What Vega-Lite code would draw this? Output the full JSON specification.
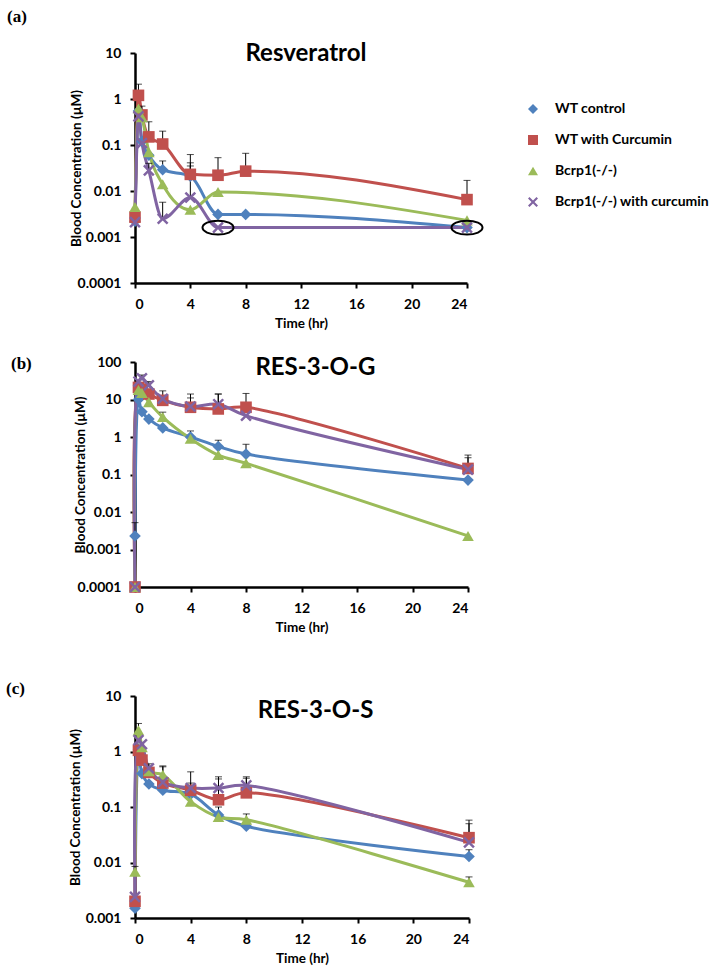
{
  "$schema": "https://vega.github.io/schema/vega-lite/v6.json",
  "background": "white",
  "padding": {"left": 6, "top": 8, "right": 5, "bottom": 5},
  "config": {
    "font": "Lato",
    "view": {"stroke": null},
    "axis": {"grid": false, "domainColor": "black", "domainWidth": 2.5, "tickColor": "black", "tickWidth": 2, "tickSize": 5, "labelFont": "Lato", "labelFontWeight": "bold", "labelFontSize": 14, "labelColor": "black", "labelPadding": 9, "titleFont": "Lato", "titleFontSize": 13.5, "titleFontWeight": "bold", "titleColor": "black"},
    "legend": {"labelFont": "Lato", "labelFontSize": 14, "labelFontWeight": "bold", "labelColor": "black"}
  },
  "datasets": {
    "resv": [
      {"s": "WT control", "t": 0, "v": 0.0022},
      {"s": "WT control", "t": 0.25, "v": 0.55},
      {"s": "WT control", "t": 0.5, "v": 0.12},
      {"s": "WT control", "t": 1, "v": 0.06},
      {"s": "WT control", "t": 2, "v": 0.029, "hi": 0.045},
      {"s": "WT control", "t": 4, "v": 0.021, "hi": 0.041},
      {"s": "WT control", "t": 6, "v": 0.0031},
      {"s": "WT control", "t": 8, "v": 0.0031},
      {"s": "WT control", "t": 24, "v": 0.0016},
      {"s": "WT with Curcumin", "t": 0, "v": 0.0027},
      {"s": "WT with Curcumin", "t": 0.25, "v": 1.2, "hi": 2.1},
      {"s": "WT with Curcumin", "t": 0.5, "v": 0.45, "hi": 0.7},
      {"s": "WT with Curcumin", "t": 1, "v": 0.15, "hi": 0.32},
      {"s": "WT with Curcumin", "t": 2, "v": 0.105, "hi": 0.2},
      {"s": "WT with Curcumin", "t": 4, "v": 0.023, "hi": 0.062},
      {"s": "WT with Curcumin", "t": 6, "v": 0.022, "hi": 0.053},
      {"s": "WT with Curcumin", "t": 8, "v": 0.027, "hi": 0.066},
      {"s": "WT with Curcumin", "t": 24, "v": 0.0065, "hi": 0.017},
      {"s": "Bcrp1(-/-)", "t": 0, "v": 0.0045},
      {"s": "Bcrp1(-/-)", "t": 0.25, "v": 0.62},
      {"s": "Bcrp1(-/-)", "t": 0.5, "v": 0.4},
      {"s": "Bcrp1(-/-)", "t": 1, "v": 0.07},
      {"s": "Bcrp1(-/-)", "t": 2, "v": 0.014},
      {"s": "Bcrp1(-/-)", "t": 4, "v": 0.0039},
      {"s": "Bcrp1(-/-)", "t": 6, "v": 0.0095},
      {"s": "Bcrp1(-/-)", "t": 24, "v": 0.0023},
      {"s": "Bcrp1(-/-) with curcumin", "t": 0, "v": 0.0021},
      {"s": "Bcrp1(-/-) with curcumin", "t": 0.25, "v": 0.42},
      {"s": "Bcrp1(-/-) with curcumin", "t": 0.5, "v": 0.11},
      {"s": "Bcrp1(-/-) with curcumin", "t": 1, "v": 0.028, "hi": 0.04},
      {"s": "Bcrp1(-/-) with curcumin", "t": 2, "v": 0.0025, "hi": 0.0057},
      {"s": "Bcrp1(-/-) with curcumin", "t": 4, "v": 0.0072, "hi": 0.035},
      {"s": "Bcrp1(-/-) with curcumin", "t": 6, "v": 0.0016},
      {"s": "Bcrp1(-/-) with curcumin", "t": 24, "v": 0.0016}
    ],
    "gluc": [
      {"s": "WT control", "t": 0, "v": 0.0023, "hi": 0.0052},
      {"s": "WT control", "t": 0.25, "v": 10},
      {"s": "WT control", "t": 0.5, "v": 4.7},
      {"s": "WT control", "t": 1, "v": 3.0},
      {"s": "WT control", "t": 2, "v": 1.75},
      {"s": "WT control", "t": 4, "v": 1.0, "hi": 1.45},
      {"s": "WT control", "t": 6, "v": 0.56, "hi": 0.82},
      {"s": "WT control", "t": 8, "v": 0.35, "hi": 0.64},
      {"s": "WT control", "t": 24, "v": 0.071},
      {"s": "WT with Curcumin", "t": 0, "v": 0.0001},
      {"s": "WT with Curcumin", "t": 0.25, "v": 21},
      {"s": "WT with Curcumin", "t": 0.5, "v": 19},
      {"s": "WT with Curcumin", "t": 1, "v": 14},
      {"s": "WT with Curcumin", "t": 2, "v": 9.5, "hi": 17},
      {"s": "WT with Curcumin", "t": 4, "v": 6.2, "hi": 14},
      {"s": "WT with Curcumin", "t": 6, "v": 5.6, "hi": 14},
      {"s": "WT with Curcumin", "t": 8, "v": 6.2, "hi": 14.5},
      {"s": "WT with Curcumin", "t": 24, "v": 0.145, "hi": 0.33},
      {"s": "Bcrp1(-/-)", "t": 0, "v": 0.0001},
      {"s": "Bcrp1(-/-)", "t": 0.25, "v": 18},
      {"s": "Bcrp1(-/-)", "t": 0.5, "v": 15},
      {"s": "Bcrp1(-/-)", "t": 1, "v": 8.5},
      {"s": "Bcrp1(-/-)", "t": 2, "v": 3.4, "hi": 4.6},
      {"s": "Bcrp1(-/-)", "t": 4, "v": 0.9},
      {"s": "Bcrp1(-/-)", "t": 6, "v": 0.33},
      {"s": "Bcrp1(-/-)", "t": 8, "v": 0.2},
      {"s": "Bcrp1(-/-)", "t": 24, "v": 0.0023},
      {"s": "Bcrp1(-/-) with curcumin", "t": 0, "v": 0.0001},
      {"s": "Bcrp1(-/-) with curcumin", "t": 0.25, "v": 30},
      {"s": "Bcrp1(-/-) with curcumin", "t": 0.5, "v": 37, "hi": 45},
      {"s": "Bcrp1(-/-) with curcumin", "t": 1, "v": 24, "hi": 30},
      {"s": "Bcrp1(-/-) with curcumin", "t": 2, "v": 10.5},
      {"s": "Bcrp1(-/-) with curcumin", "t": 4, "v": 6.5, "hi": 11},
      {"s": "Bcrp1(-/-) with curcumin", "t": 6, "v": 7.5, "hi": 14},
      {"s": "Bcrp1(-/-) with curcumin", "t": 8, "v": 3.7},
      {"s": "Bcrp1(-/-) with curcumin", "t": 24, "v": 0.135, "hi": 0.28}
    ],
    "sulf": [
      {"s": "WT control", "t": 0, "v": 0.0015},
      {"s": "WT control", "t": 0.25, "v": 1.1},
      {"s": "WT control", "t": 0.5, "v": 0.4},
      {"s": "WT control", "t": 1, "v": 0.26},
      {"s": "WT control", "t": 2, "v": 0.2},
      {"s": "WT control", "t": 4, "v": 0.17},
      {"s": "WT control", "t": 6, "v": 0.072, "hi": 0.1},
      {"s": "WT control", "t": 8, "v": 0.045},
      {"s": "WT control", "t": 24, "v": 0.0128, "hi": 0.017},
      {"s": "WT with Curcumin", "t": 0, "v": 0.002},
      {"s": "WT with Curcumin", "t": 0.25, "v": 1.05},
      {"s": "WT with Curcumin", "t": 0.5, "v": 0.7},
      {"s": "WT with Curcumin", "t": 1, "v": 0.42, "hi": 0.6},
      {"s": "WT with Curcumin", "t": 2, "v": 0.27, "hi": 0.53},
      {"s": "WT with Curcumin", "t": 4, "v": 0.2, "hi": 0.43},
      {"s": "WT with Curcumin", "t": 6, "v": 0.135, "hi": 0.35},
      {"s": "WT with Curcumin", "t": 8, "v": 0.18, "hi": 0.35},
      {"s": "WT with Curcumin", "t": 24, "v": 0.028, "hi": 0.058},
      {"s": "Bcrp1(-/-)", "t": 0, "v": 0.0068, "hi": 0.0085},
      {"s": "Bcrp1(-/-)", "t": 0.25, "v": 2.4, "hi": 3.2},
      {"s": "Bcrp1(-/-)", "t": 0.5, "v": 1.2},
      {"s": "Bcrp1(-/-)", "t": 1, "v": 0.44},
      {"s": "Bcrp1(-/-)", "t": 2, "v": 0.38, "hi": 0.55},
      {"s": "Bcrp1(-/-)", "t": 4, "v": 0.125},
      {"s": "Bcrp1(-/-)", "t": 6, "v": 0.066},
      {"s": "Bcrp1(-/-)", "t": 8, "v": 0.059, "hi": 0.075},
      {"s": "Bcrp1(-/-)", "t": 24, "v": 0.0044, "hi": 0.0055},
      {"s": "Bcrp1(-/-) with curcumin", "t": 0, "v": 0.0024},
      {"s": "Bcrp1(-/-) with curcumin", "t": 0.25, "v": 1.6},
      {"s": "Bcrp1(-/-) with curcumin", "t": 0.5, "v": 1.35},
      {"s": "Bcrp1(-/-) with curcumin", "t": 1, "v": 0.5},
      {"s": "Bcrp1(-/-) with curcumin", "t": 2, "v": 0.28},
      {"s": "Bcrp1(-/-) with curcumin", "t": 4, "v": 0.22, "hi": 0.27},
      {"s": "Bcrp1(-/-) with curcumin", "t": 6, "v": 0.22, "hi": 0.32},
      {"s": "Bcrp1(-/-) with curcumin", "t": 8, "v": 0.245, "hi": 0.33},
      {"s": "Bcrp1(-/-) with curcumin", "t": 24, "v": 0.023, "hi": 0.05}
    ]
  },
  "vconcat": [
    {
      "spacing": 25,
      "vconcat": [
        {
          "width": 332, "height": 230,
          "title": {"text": "(a)", "anchor": "start", "frame": "bounds", "dx": -62, "offset": 16, "font": "Liberation Serif", "fontSize": 17, "fontWeight": "bold", "color": "black"},
          "data": {"name": "resv"},
          "layer": [
            {"mark": {"type": "line", "interpolate": "monotone", "strokeWidth": 3},
             "encoding": {
               "x": {"field": "t", "type": "quantitative", "scale": {"domain": [0, 24], "nice": false}, "axis": {"values": [0, 4, 8, 12, 16, 20, 24], "title": "Time (hr)", "titlePadding": 5}},
               "y": {"field": "v", "type": "quantitative", "scale": {"type": "log", "domain": [0.0001, 10], "nice": false}, "axis": {"values": [0.0001, 0.001, 0.01, 0.1, 1, 10], "format": "~g", "title": "Blood Concentration (µM)", "titleX": -52}},
               "color": {"field": "s", "type": "nominal", "scale": {"domain": ["WT control", "WT with Curcumin", "Bcrp1(-/-)", "Bcrp1(-/-) with curcumin"], "range": ["#4F81BD", "#C0504D", "#9BBB59", "#8064A2"]},
                 "legend": {"title": null, "orient": "none", "legendX": 391, "legendY": 49, "rowPadding": 17, "labelOffset": 15, "symbolSize": 100, "padding": 0,
                   "encode": {"symbols": {"update": {"size": {"value": 100}, "opacity": {"value": 1}, "strokeWidth": {"value": 0}, "fill": {"scale": "color", "field": "value"}, "shape": {"signal": "datum.value === 'WT control' ? 'M-3.1,-0.3H3.3V0.3H-3.1Z M0,-1L1,0L0,1L-1,0Z' : datum.value === 'WT with Curcumin' ? 'M-3.1,-0.3H3.3V0.3H-3.1Z M-0.9,-0.9H0.9V0.9H-0.9Z' : datum.value === 'Bcrp1(-/-)' ? 'M-3.1,-0.3H3.3V0.3H-3.1Z M0,-1L1,0.8H-1Z' : 'M-3.1,-0.3H3.3V0.3H-3.1Z M-1,-0.7L-0.7,-1L0,-0.3L0.7,-1L1,-0.7L0.3,0L1,0.7L0.7,1L0,0.3L-0.7,1L-1,0.7L-0.3,0Z'"}}}}}}
             }},
            {"transform": [{"filter": "isValid(datum.hi)"}],
             "mark": {"type": "rule", "color": "black", "strokeWidth": 1},
             "encoding": {"x": {"field": "t", "type": "quantitative"}, "y": {"field": "v", "type": "quantitative"}, "y2": {"field": "hi"}}},
            {"transform": [{"filter": "isValid(datum.hi)"}],
             "mark": {"type": "tick", "orient": "horizontal", "color": "black", "thickness": 1, "size": 7},
             "encoding": {"x": {"field": "t", "type": "quantitative"}, "y": {"field": "hi", "type": "quantitative"}}},
            {"mark": {"type": "point", "filled": true, "size": 135, "opacity": 1},
             "encoding": {
               "x": {"field": "t", "type": "quantitative"},
               "y": {"field": "v", "type": "quantitative"},
               "color": {"field": "s", "type": "nominal"},
               "shape": {"field": "s", "type": "nominal", "legend": null, "scale": {"domain": ["WT control", "WT with Curcumin", "Bcrp1(-/-)", "Bcrp1(-/-) with curcumin"], "range": ["diamond", "square", "triangle-up", "M-1,-0.7L-0.7,-1L0,-0.3L0.7,-1L1,-0.7L0.3,0L1,0.7L0.7,1L0,0.3L-0.7,1L-1,0.7L-0.3,0Z"]}}
             }},
            {"transform": [{"filter": "datum.s === 'Bcrp1(-/-) with curcumin' && datum.t >= 6"}],
             "mark": {"type": "point", "filled": false, "stroke": "black", "strokeWidth": 2, "size": 961, "opacity": 1, "shape": "M-1,0A1,0.45 0 1,0 1,0A1,0.45 0 1,0 -1,0Z"},
             "encoding": {"x": {"field": "t", "type": "quantitative"}, "y": {"field": "v", "type": "quantitative"}}},
            {"data": {"values": [{}]},
             "mark": {"type": "text", "font": "Lato", "fontSize": 24, "fontWeight": "bold", "baseline": "middle", "color": "black"},
             "encoding": {"x": {"datum": 12.36}, "y": {"datum": 9.5}, "text": {"value": "Resveratrol"}}}
          ]
        },
        {
          "width": 333, "height": 225,
          "title": {"text": "(b)", "anchor": "start", "frame": "bounds", "dx": -62, "offset": -18, "font": "Liberation Serif", "fontSize": 17, "fontWeight": "bold", "color": "black"},
          "data": {"name": "gluc"},
          "layer": [
            {"mark": {"type": "line", "interpolate": "catmull-rom", "strokeWidth": 3},
             "encoding": {
               "x": {"field": "t", "type": "quantitative", "scale": {"domain": [0, 24], "nice": false}, "axis": {"values": [0, 4, 8, 12, 16, 20, 24], "title": "Time (hr)", "titlePadding": 5}},
               "y": {"field": "v", "type": "quantitative", "scale": {"type": "log", "domain": [0.0001, 100], "nice": false}, "axis": {"values": [0.0001, 0.001, 0.01, 0.1, 1, 10, 100], "format": "~g", "title": "Blood Concentration (µM)", "titleX": -48}},
               "color": {"field": "s", "type": "nominal"}
             }},
            {"transform": [{"filter": "isValid(datum.hi)"}],
             "mark": {"type": "rule", "color": "black", "strokeWidth": 1},
             "encoding": {"x": {"field": "t", "type": "quantitative"}, "y": {"field": "v", "type": "quantitative"}, "y2": {"field": "hi"}}},
            {"transform": [{"filter": "isValid(datum.hi)"}],
             "mark": {"type": "tick", "orient": "horizontal", "color": "black", "thickness": 1, "size": 7},
             "encoding": {"x": {"field": "t", "type": "quantitative"}, "y": {"field": "hi", "type": "quantitative"}}},
            {"mark": {"type": "point", "filled": true, "size": 135, "opacity": 1},
             "encoding": {
               "x": {"field": "t", "type": "quantitative"},
               "y": {"field": "v", "type": "quantitative"},
               "color": {"field": "s", "type": "nominal"},
               "shape": {"field": "s", "type": "nominal", "legend": null}
             }},
            {"data": {"values": [{}]},
             "mark": {"type": "text", "font": "Lato", "fontSize": 24, "fontWeight": "bold", "baseline": "middle", "color": "black"},
             "encoding": {"x": {"datum": 13.0}, "y": {"datum": 69}, "text": {"value": "RES-3-O-G"}}}
          ]
        }
      ]
    },
    {
      "width": 334, "height": 222,
      "title": {"text": "(c)", "anchor": "start", "frame": "bounds", "dx": -62, "offset": -9, "font": "Liberation Serif", "fontSize": 17, "fontWeight": "bold", "color": "black"},
      "data": {"name": "sulf"},
      "layer": [
        {"mark": {"type": "line", "interpolate": "catmull-rom", "strokeWidth": 3},
         "encoding": {
           "x": {"field": "t", "type": "quantitative", "scale": {"domain": [0, 24], "nice": false}, "axis": {"values": [0, 4, 8, 12, 16, 20, 24], "title": "Time (hr)", "titlePadding": 5}},
           "y": {"field": "v", "type": "quantitative", "scale": {"type": "log", "domain": [0.001, 10], "nice": false}, "axis": {"values": [0.001, 0.01, 0.1, 1, 10], "format": "~g", "title": "Blood Concentration (µM)", "titleX": -53}},
           "color": {"field": "s", "type": "nominal"}
         }},
        {"transform": [{"filter": "isValid(datum.hi)"}],
         "mark": {"type": "rule", "color": "black", "strokeWidth": 1},
         "encoding": {"x": {"field": "t", "type": "quantitative"}, "y": {"field": "v", "type": "quantitative"}, "y2": {"field": "hi"}}},
        {"transform": [{"filter": "isValid(datum.hi)"}],
         "mark": {"type": "tick", "orient": "horizontal", "color": "black", "thickness": 1, "size": 7},
         "encoding": {"x": {"field": "t", "type": "quantitative"}, "y": {"field": "hi", "type": "quantitative"}}},
        {"mark": {"type": "point", "filled": true, "size": 135, "opacity": 1},
         "encoding": {
           "x": {"field": "t", "type": "quantitative"},
           "y": {"field": "v", "type": "quantitative"},
           "color": {"field": "s", "type": "nominal"},
           "shape": {"field": "s", "type": "nominal", "legend": null}
         }},
        {"data": {"values": [{}]},
         "mark": {"type": "text", "font": "Lato", "fontSize": 24, "fontWeight": "bold", "baseline": "middle", "color": "black"},
         "encoding": {"x": {"datum": 12.97}, "y": {"datum": 5.37}, "text": {"value": "RES-3-O-S"}}}
      ]
    }
  ],
  "spacing": 46
}
